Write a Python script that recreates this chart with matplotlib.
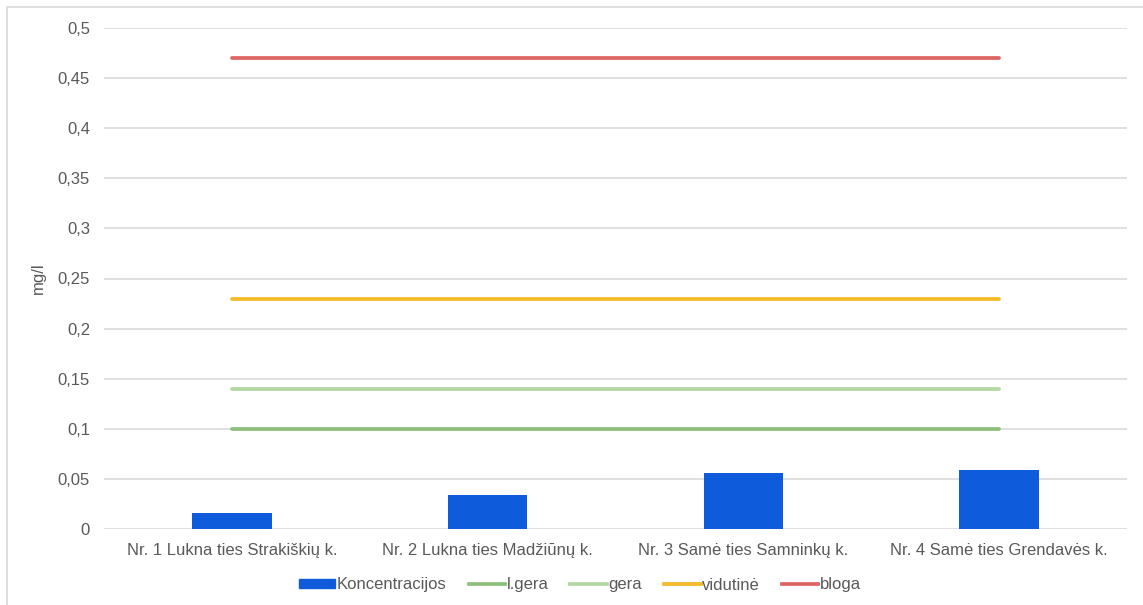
import matplotlib
matplotlib.use("Agg")
import matplotlib.pyplot as plt
from matplotlib.patches import Rectangle, Patch
from matplotlib.lines import Line2D
import numpy as np

plt.rcParams['font.family'] = ['Liberation Sans', 'DejaVu Sans']

categories = ["Nr. 1 Lukna ties Strakiškių k.", "Nr. 2 Lukna ties Madžiūnų k.",
              "Nr. 3 Samė ties Samninkų k.", "Nr. 4 Samė ties Grendavės k."]
koncentracijos = [0.016, 0.034, 0.056, 0.059]
l_gera = [0.10, 0.10, 0.10, 0.10]
gera = [0.14, 0.14, 0.14, 0.14]
vidutine = [0.23, 0.23, 0.23, 0.23]
bloga = [0.47, 0.47, 0.47, 0.47]
yticks = [0, 0.05, 0.1, 0.15, 0.2, 0.25, 0.3, 0.35, 0.4, 0.45, 0.5]

c_bar = "#0E5BDB"
c_lgera = "#8CC07A"
c_gera = "#B2D8A2"
c_vid = "#F2BA27"
c_blog = "#DF6464"
text_c = "#595959"
fs = 12

W, H = 1143, 605
fig = plt.figure(figsize=(W / 100, H / 100), dpi=100)
ax = fig.add_axes([104 / W, 1 - 529 / H, (1127 - 104) / W, (529 - 28) / H])

x = np.arange(len(categories))
ax.bar(x, koncentracijos, width=0.31, color=c_bar, zorder=3)
for vals, col in [(l_gera, c_lgera), (gera, c_gera), (vidutine, c_vid), (bloga, c_blog)]:
    ax.plot(x, vals, color=col, lw=2.7, solid_capstyle='round', zorder=4)

ax.set_xlim(-0.5, len(categories) - 0.5)
ax.set_ylim(0, 0.5)
ax.set_yticks(yticks)
ax.set_yticklabels([f"{v:g}".replace(".", ",") for v in yticks])
ax.set_xticks(x)
ax.set_xticklabels(categories)
ax.tick_params(axis='both', length=0, labelsize=fs, colors=text_c)
ax.tick_params(axis='y', pad=10)
ax.tick_params(axis='x', pad=10)
ax.grid(axis='y', color="#D9D9D9", lw=1.2, zorder=0)
for s in ax.spines.values():
    s.set_visible(False)
ax.set_ylabel("mg/l", fontsize=fs, color=text_c)
ax.yaxis.set_label_coords(-0.057, 0.5)

handles = [Patch(facecolor=c_bar, edgecolor=c_bar),
           Line2D([], [], color=c_lgera, lw=2.7),
           Line2D([], [], color=c_gera, lw=2.7),
           Line2D([], [], color=c_vid, lw=2.7),
           Line2D([], [], color=c_blog, lw=2.7)]
labels = ["Koncentracijos", "l.gera", "gera", "vidutinė", "bloga"]
leg = fig.legend(handles, labels, loc='center', bbox_to_anchor=(580 / W, 1 - 585 / H),
                 ncol=5, frameon=False, fontsize=fs, handlelength=2.2, handleheight=0.42,
                 handletextpad=0.1, columnspacing=1.3)
for t in leg.get_texts():
    t.set_color(text_c)

fig.add_artist(Rectangle((7 / W, -0.1), 1.2, 1 - 7 / H + 0.1, transform=fig.transFigure,
                         fill=False, edgecolor="#D9D9D9", lw=1.2))

fig.savefig("out.png", dpi=100)
